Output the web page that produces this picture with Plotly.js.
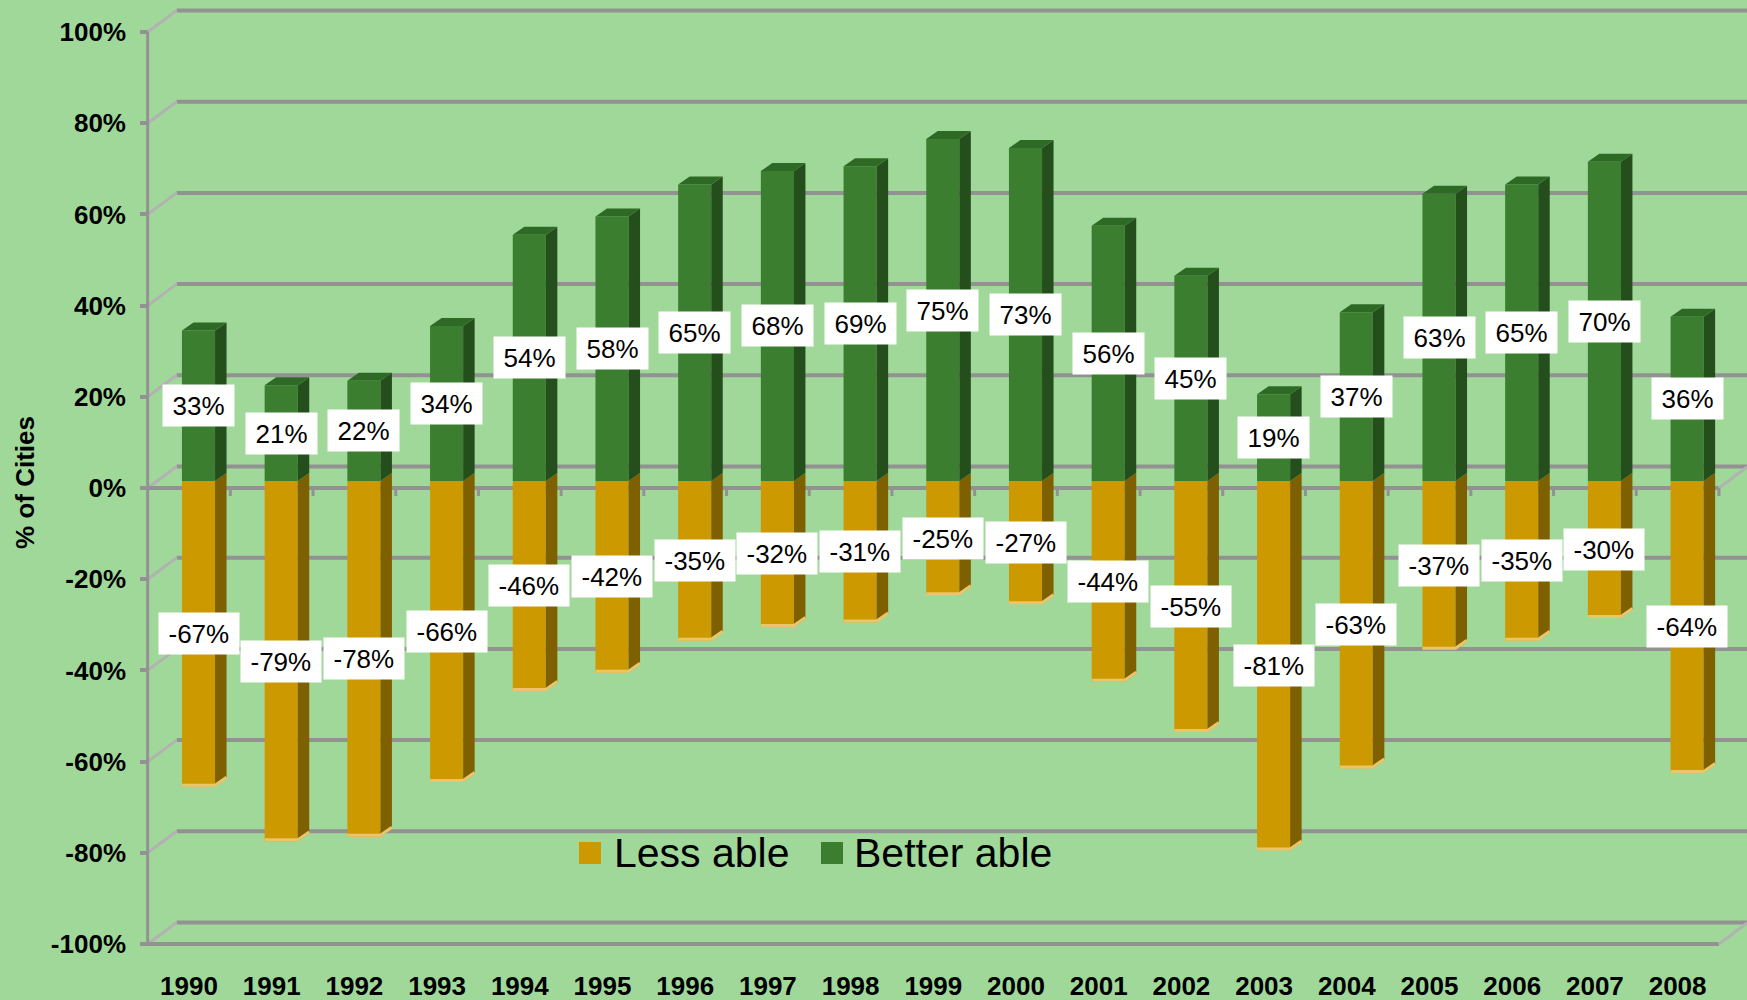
<!DOCTYPE html>
<html><head><meta charset="utf-8">
<script src="https://cdn.plot.ly/plotly-3.0.1.min.js"></script>
<style>html,body{margin:0;padding:0;background:#a0d89a;} #chart{width:1747px;height:1000px;}</style>
</head><body><div id="chart"></div>
<script>
// ---------------- data ----------------
const years = [1990,1991,1992,1993,1994,1995,1996,1997,1998,1999,2000,2001,2002,2003,2004,2005,2006,2007,2008];
const betterAble = [33,21,22,34,54,58,65,68,69,75,73,56,45,19,37,63,65,70,36];
const lessAble = [-67,-79,-78,-66,-46,-42,-35,-32,-31,-25,-27,-44,-55,-81,-63,-37,-35,-30,-64];
const seriesNames = ['Less able','Better able'];
const yTicks = [-100,-80,-60,-40,-20,0,20,40,60,80,100];
const yTickLabels = yTicks.map(v => v + '%');
const yTitle = '% of Cities';

// ---------------- geometry / style ----------------
const W = 1747, H = 1000;
const M = {l:140, r:0, t:5, b:40};
const pxX = 82.7, pxY = 4.56;           // px per category / per percent
const firstCenterPx = 198.5, zeroPx = 481;
const xr = [years[0] - (firstCenterPx - M.l)/pxX, years[0] + (W - M.r - firstCenterPx)/pxX];
const yr = [-(H - M.b - zeroPx)/pxY, (zeroPx - M.t)/pxY];
const dxF = -9.5/pxX, dyF = -7/pxY;     // front plane offset
const dxB = 19.5/pxX, dyB = 14.5/pxY;   // back wall offset
const half = 0.2, sideW = 11.5/pxX, slant = 8/pxY;

const BG = '#a0d89a', GRID = '#929292', WALL = '#b2b2b2';
const GREEN = '#3b7e2f', GREEN_SIDE = '#244f1d', GREEN_TOP = '#2e6a26';
const GOLD = '#cc9900', GOLD_SIDE = '#7f6000', GOLD_EDGE = '#ebc56a';
const FONT = '"Liberation Sans", Arial, sans-serif';

const shapes = [];
const line = (x0,y0,x1,y1,color,width,layer) => shapes.push({type:'line',xref:'x',yref:'y',x0,y0,x1,y1,layer:layer||'below',line:{color,width}});
const poly = (pts,color) => shapes.push({type:'path',xref:'x',yref:'y',layer:'above',
  path:'M'+pts.map(p=>p[0]+','+p[1]).join(' L')+' Z',fillcolor:color,line:{width:0}});

const leftF = years[0] - 0.5 + dxF, rightF = years[years.length-1] + 0.5 + dxF;
const leftB = years[0] - 0.5 + dxB;
// back wall gridlines + left diagonals
yTicks.forEach(v => {
  line(leftB, v + dyB, xr[1] + 1, v + dyB, GRID, 4);
  line(leftF, v + dyF, leftB, v + dyB, WALL, 3);
});
// front axis line, front 0% and floor edges
line(leftF, -100 + dyF, leftF, 100 + dyF, GRID, 3);
line(leftF, dyF, rightF, dyF, GRID, 4);
line(rightF, dyF, rightF + (dxB - dxF), dyB, WALL, 3);
line(leftF, -100 + dyF, rightF, -100 + dyF, GRID, 4);
line(rightF, -100 + dyF, rightF + (dxB - dxF), -100 + dyB, WALL, 3);
// category ticks on front 0% line
years.forEach(y => line(y + 0.5 + dxF, dyF, y + 0.5 + dxF, dyF - 8/pxY, GRID, 3));

// 3D side / top faces of the bars
years.forEach((yr_, i) => {
  const b = betterAble[i], u = lessAble[i];
  const xa = yr_ + half, xb = yr_ + half + sideW;
  poly([[xa,0],[xa,u],[xb,u+slant],[xb,slant]], GOLD_SIDE);
  poly([[xa,0],[xa,b],[xb,b+slant],[xb,slant]], GREEN_SIDE);
  poly([[yr_-half,b],[xa,b],[xb,b+slant],[yr_-half+sideW,b+slant]], GREEN_TOP);
  shapes.push({type:'path',xref:'x',yref:'y',layer:'above',
    path:`M${yr_-half},${u+0.3} L${xa},${u+0.3} L${xb},${u+slant+0.3}`,line:{color:GOLD_EDGE,width:3}});
});

// data labels
const charW = c => c === '%' ? 0.889 : (c === '-' ? 0.333 : 0.556);
const labFont = 26;
const annotations = [];
const addLabel = (x, v) => {
  const txt = v + '%';
  const w = txt.split('').reduce((s,c)=>s+charW(c),0)*labFont + 7;
  annotations.push({x, y: v/2, xref:'x', yref:'y', text: txt, showarrow:false,
    bgcolor:'#ffffff', borderpad:6, width:w, height:29,
    font:{family:FONT,size:labFont,color:'#000'}});
};
years.forEach((y,i) => { addLabel(y, betterAble[i]); addLabel(y, lessAble[i]); });

// manual legend
const px2x = p => (p - M.l)/(W - M.l - M.r);
const px2y = p => (H - M.b - p)/(H - M.t - M.b);
const legendItems = [
  {name: seriesNames[0], color: GOLD, sq: 579, tx: 612},
  {name: seriesNames[1], color: GREEN, sq: 821, tx: 852}
];
legendItems.forEach(it => {
  shapes.push({type:'rect',xref:'paper',yref:'paper',x0:px2x(it.sq),x1:px2x(it.sq+22),
    y0:px2y(864),y1:px2y(842),fillcolor:it.color,line:{width:0},layer:'above'});
  annotations.push({xref:'paper',yref:'paper',x:px2x(it.tx),y:px2y(853),xanchor:'left',yanchor:'middle',
    text:it.name,showarrow:false,font:{family:FONT,size:41,color:'#000'}});
});

const traces = [
  {type:'bar', name:seriesNames[0], x:years, y:lessAble, width:2*half,
   marker:{color:GOLD}, showlegend:false, hoverinfo:'x+y'},
  {type:'bar', name:seriesNames[1], x:years, y:betterAble, width:2*half,
   marker:{color:GREEN}, showlegend:false, hoverinfo:'x+y'}
];

const layout = {
  width:W, height:H, margin:M,
  paper_bgcolor:BG, plot_bgcolor:BG,
  barmode:'relative', showlegend:false,
  font:{family:FONT,color:'#000'},
  xaxis:{range:xr, showgrid:false, zeroline:false, showline:false, ticks:'',
    tickmode:'array', tickvals: years.map(y => y + dxF), ticktext: years.map(String),
    tickfont:{family:FONT,size:26,color:'#000',weight:'bold'}, ticklabelstandoff:8, fixedrange:true},
  yaxis:{range:yr, showgrid:false, zeroline:false, showline:false,
    tickmode:'array', tickvals: yTicks.map(v => v + dyF), ticktext: yTickLabels,
    ticks:'inside', ticklen:8, tickwidth:4, tickcolor:GRID, ticklabelstandoff:13,
    tickfont:{family:FONT,size:26,color:'#000',weight:'bold'},
    title:{text:yTitle, standoff:8, font:{family:FONT,size:26,color:'#000',weight:'bold'}}, fixedrange:true},
  shapes, annotations
};

Plotly.newPlot('chart', traces, layout, {displayModeBar:false, staticPlot:true});
</script>
</body></html>
